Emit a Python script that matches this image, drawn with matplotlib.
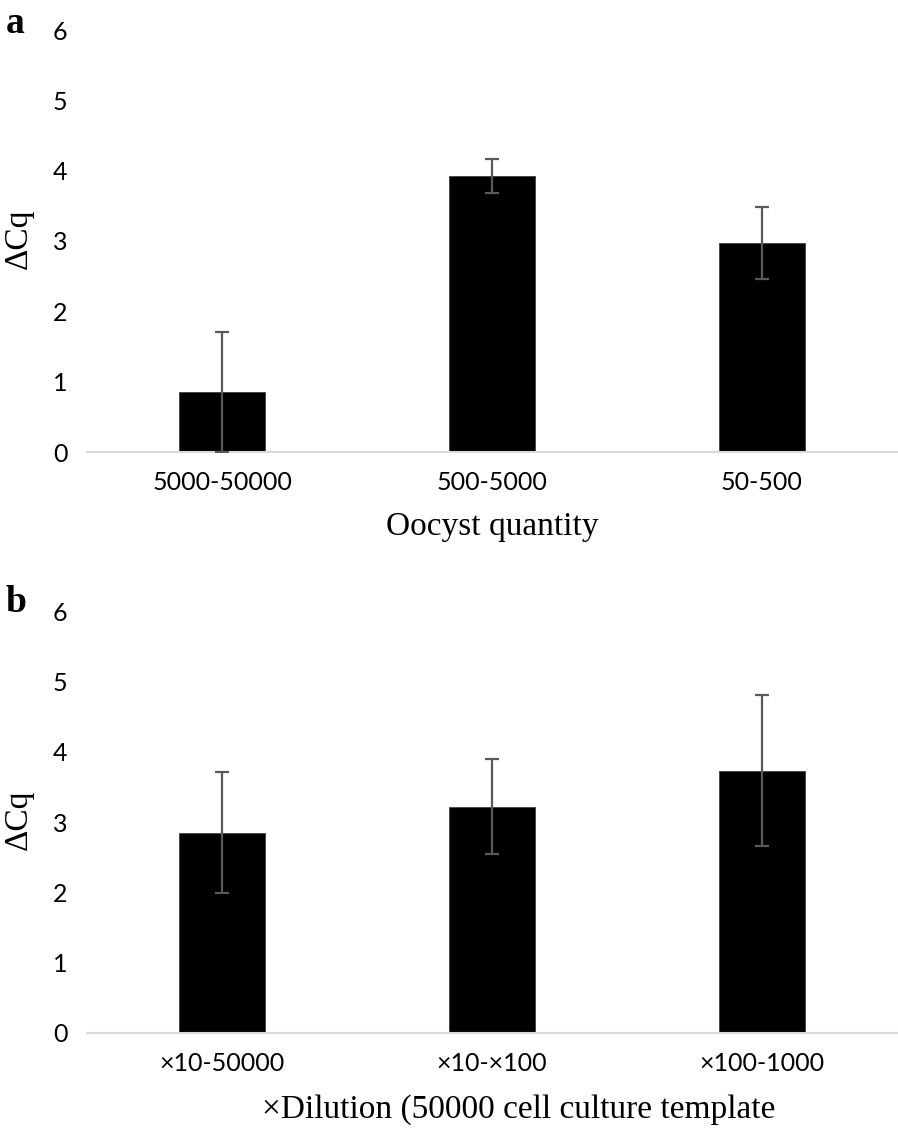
import matplotlib
matplotlib.use("Agg")
import matplotlib.pyplot as plt
import numpy as np

cats_a = ["5000-50000", "500-5000", "50-500"]
vals_a = [0.85, 3.92, 2.97]
err_a = [0.85, 0.24, 0.51]

cats_b = ["\u00d710-50000", "\u00d710-\u00d7100", "\u00d7100-1000"]
vals_b = [2.85, 3.22, 3.73]
err_b = [0.86, 0.68, 1.07]

yticks = [0, 1, 2, 3, 4, 5, 6]

W, H = 898, 1132
fig = plt.figure(figsize=(W / 100, H / 100), dpi=100)
fig.patch.set_facecolor("white")

tick_font = "Lato"
serif = "Liberation Serif"


def panel(rect, cats, vals, errs, xlabel, letter, letter_y, xlabel_x=0.5):
    ax = fig.add_axes(rect)
    x = np.arange(len(cats))
    ax.bar(x, vals, width=0.315, color="black", edgecolor="#404040", linewidth=0.6, zorder=2)
    ax.errorbar(x, vals, yerr=errs, fmt="none", ecolor="#595959", elinewidth=1.6,
                capsize=5, capthick=1.6, zorder=3)
    ax.set_xlim(-0.5, 2.5)
    ax.set_ylim(0, 6)
    ax.set_yticks(yticks)
    ax.set_yticklabels([str(t) for t in yticks], fontfamily=tick_font, fontsize=18)
    ax.set_xticks(x)
    ax.set_xticklabels(cats, fontfamily=tick_font, fontsize=18)
    ax.tick_params(axis="y", length=0, pad=14)
    ax.tick_params(axis="x", length=0, pad=14)
    for s in ["top", "right", "left"]:
        ax.spines[s].set_visible(False)
    ax.spines["bottom"].set_color("#d9d9d9")
    ax.spines["bottom"].set_linewidth(1.5)
    ax.set_xlabel(xlabel, fontfamily=serif, fontsize=24, labelpad=12)
    if xlabel_x != 0.5:
        ax.xaxis.set_label_coords(xlabel_x, -(1108 - 1033 + 10) / 422, transform=ax.transAxes)
        ax.xaxis.label.set_va("baseline")
    ax.set_ylabel("\u0394Cq", fontfamily=serif, fontsize=24)
    ax.yaxis.set_label_coords(-(87 - 34) / 810, 0.505)
    fig.text(6 / W, 1 - letter_y / H, letter, fontfamily=serif, fontweight="bold",
             fontsize=27, va="baseline", ha="left")
    return ax


ax1 = panel([87 / W, 1 - 452 / H, 810 / W, 422 / H], cats_a, vals_a, err_a,
            "Oocyst quantity", "a", 33)
ax2 = panel([87 / W, 1 - 1033 / H, 810 / W, 422 / H], cats_b, vals_b, err_b,
            "\u00d7Dilution (50000 cell culture template", "b", 612,
            xlabel_x=(519 - 87) / 810)

fig.savefig("out.png", dpi=100, facecolor="white")
